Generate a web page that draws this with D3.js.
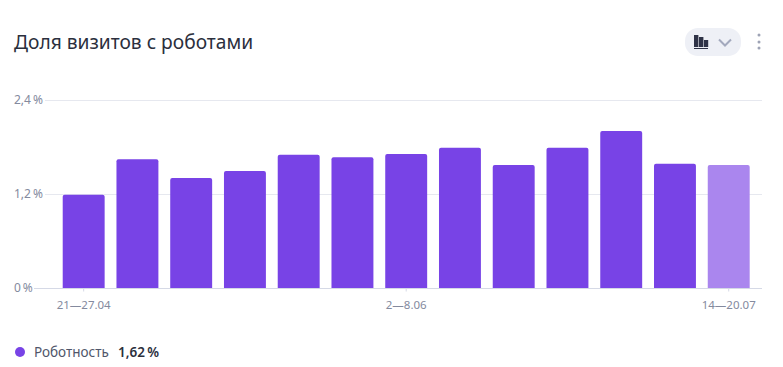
<!DOCTYPE html>
<html><head><meta charset="utf-8">
<script src="https://cdn.jsdelivr.net/npm/d3@7/dist/d3.min.js"></script>
<style>html,body{margin:0;padding:0;background:#fff;overflow:hidden}svg{display:block}text{font-family:"Noto Sans",sans-serif}</style>
</head><body><svg id="c" width="783" height="367"></svg>
<script>
const weeks = ["21—27.04","28.04—4.05","5—11.05","12—18.05","19—25.05","26.05—1.06","2—8.06","9—15.06","16—22.06","23—29.06","30.06—6.07","7—13.07","14—20.07"];
const robotShare = [1.19,1.645,1.405,1.495,1.70,1.67,1.71,1.79,1.57,1.79,2.005,1.585,1.57];
const yTicks = [0,1.2,2.4];
const yTickLabels = ["0\u2009%","1,2\u2009%","2,4\u2009%"];
const xTickLabels = ["21—27.04","2—8.06","14—20.07"];
const titleText = "Доля визитов с роботами";
const seriesName = "Роботность";
const seriesTotal = "1,62\u2009%";

const svg = d3.select("#c");
const x = d3.scaleBand().domain(weeks).range([56.8,755.6]).paddingInner(0.22).paddingOuter(0.11);
const y = d3.scaleLinear().domain([0,2.4]).range([288,100]);
const PURPLE="#7843e6", LIGHT="#aa86ee", GRID="#e6e8ef", AXIS="#d5d9e6", TXT="#848a9e";

svg.append("text").attr("x",14).attr("y",48.5).attr("font-size",19.2).attr("fill","#2b2f3d").text(titleText);

const yAxis = d3.axisLeft(y).tickValues(yTicks).tickSize(0).tickFormat((d,i)=>yTickLabels[i]);
const gy = svg.append("g").call(yAxis);
gy.select(".domain").remove();
gy.selectAll("text").attr("x",14).attr("dy",null).attr("y",3).attr("text-anchor","start").attr("font-size",12).attr("fill",TXT).style("font-family",'"Noto Sans",sans-serif');
gy.selectAll("line").attr("x1",d=>d===0?34:45).attr("x2",762).attr("stroke",d=>d===0?AXIS:GRID).attr("stroke-width",1);
gy.selectAll(".tick").attr("transform",d=>`translate(0,${Math.round(y(d))+0.5})`);

const r=2;
svg.append("g").selectAll("path").data(weeks).join("path")
 .attr("d",(w,i)=>{const x0=x(w),bw=x.bandwidth(),t=y(robotShare[i]),b=y(0);
   return `M${x0},${b}V${t+r}Q${x0},${t} ${x0+r},${t}H${x0+bw-r}Q${x0+bw},${t} ${x0+bw},${t+r}V${b}Z`;})
 .attr("fill",(w,i)=>i===weeks.length-1?LIGHT:PURPLE);

const xAxis = d3.axisBottom(x).tickValues(xTickLabels).tickSize(3).tickPadding(9);
const gx = svg.append("g").attr("transform","translate(0,288.5)").call(xAxis);
gx.select(".domain").remove();
gx.selectAll("line").attr("stroke",AXIS);
gx.selectAll("text").attr("font-size",11.5).attr("fill",TXT).style("font-family",'"Noto Sans",sans-serif');

const pill=svg.append("g");
pill.append("rect").attr("x",685).attr("y",28).attr("width",56).attr("height",28).attr("rx",13).attr("fill","#eef0f6");
pill.append("rect").attr("x",694).attr("y",35).attr("width",4.4).attr("height",12).attr("fill","#2f3347");
pill.append("rect").attr("x",699).attr("y",37).attr("width",4.4).attr("height",10).attr("fill","#2f3347");
pill.append("rect").attr("x",704).attr("y",40).attr("width",4.2).attr("height",7).attr("fill","#2f3347");
pill.append("rect").attr("x",694).attr("y",48).attr("width",14).attr("height",1).attr("fill","#2f3347");
pill.append("path").attr("d","M719 39.500l6 6 6-6").attr("fill","none").attr("stroke","#a3a9bd").attr("stroke-width",2);
[35,42,48].forEach(cy=>svg.append("circle").attr("cx",759).attr("cy",cy).attr("r",1.500).attr("fill","#9ea3b5"));

svg.append("circle").attr("cx",20).attr("cy",352).attr("r",5).attr("fill",PURPLE);
svg.append("text").attr("x",34).attr("y",357).attr("font-size",13.5).attr("fill","#50566a").text(seriesName);
svg.append("text").attr("x",118).attr("y",357).attr("font-size",13.5).attr("font-weight",600).attr("fill","#2b2f3d").text(seriesTotal);
</script></body></html>
